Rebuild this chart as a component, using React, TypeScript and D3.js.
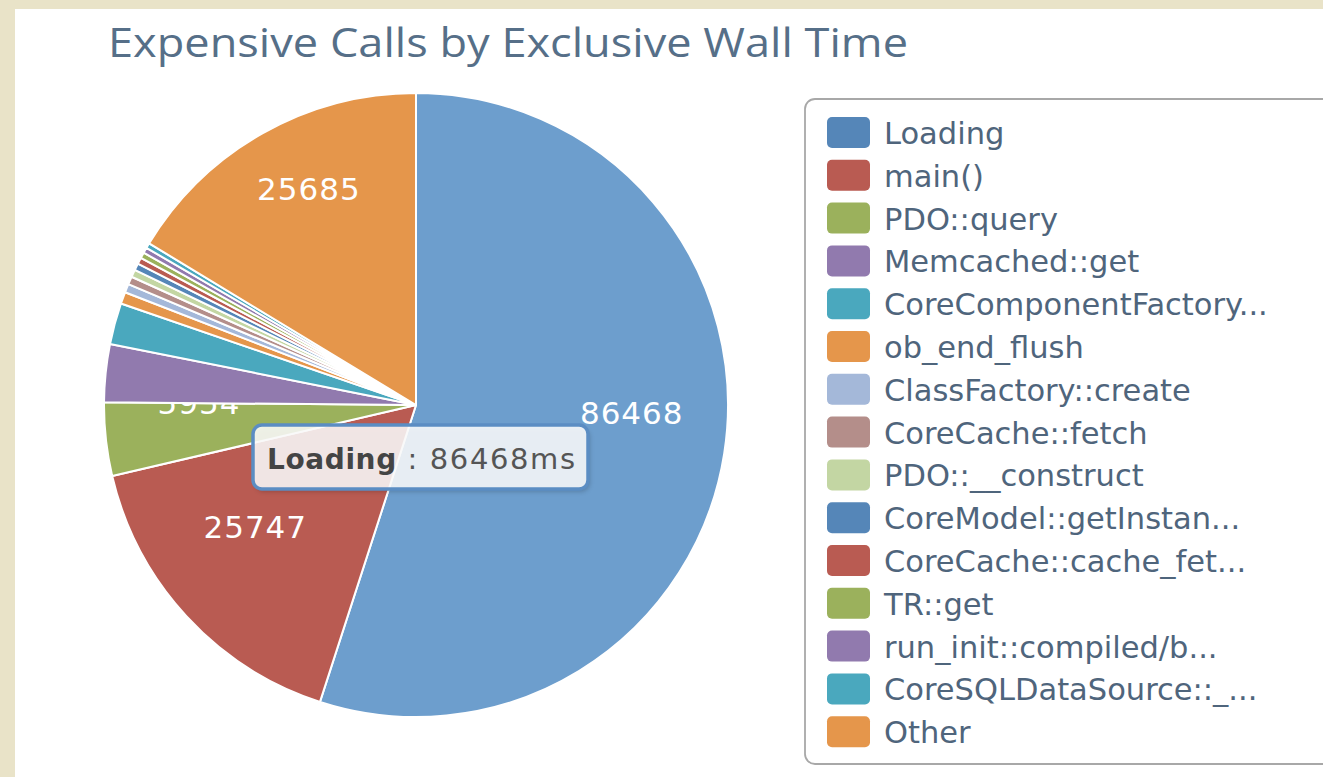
import React, { useRef, useEffect } from "react";
import * as d3 from "d3";

const categories = [
  "Loading",
  "main()",
  "PDO::query",
  "Memcached::get",
  "CoreComponentFactory...",
  "ob_end_flush",
  "ClassFactory::create",
  "CoreCache::fetch",
  "PDO::__construct",
  "CoreModel::getInstan...",
  "CoreCache::cache_fet...",
  "TR::get",
  "run_init::compiled/b...",
  "CoreSQLDataSource::_...",
  "Other",
];

const values = [
  86468, 25747, 5954, 4712, 3368, 960, 700, 650, 600, 560, 520, 480, 450, 420,
  25685,
];

const palette = [
  "#5586b8",
  "#b95b52",
  "#9bb15c",
  "#917aae",
  "#4aa8be",
  "#e5964b",
  "#a4b8d9",
  "#b48e8a",
  "#c3d6a3",
];

// hovered slice is drawn lighter
const hoverColor = "#6d9ecd";
const hoveredIndex = 0;

const W = 1323;
const H = 777;

const App: React.FC = () => {
  const svgRef = useRef<SVGSVGElement>(null);

  useEffect(() => {
    if (!svgRef.current) return;
    const svg = d3.select(svgRef.current);
    svg.selectAll("*").remove();

    // page backdrop + white panel
    svg.append("rect").attr("width", W).attr("height", H).attr("fill", "#e9e3c8");
    svg
      .append("rect")
      .attr("x", 15)
      .attr("y", 9)
      .attr("width", W - 15)
      .attr("height", H - 9)
      .attr("fill", "#ffffff");

    svg
      .append("text")
      .attr("x", 108)
      .attr("y", 57)
      .attr("font-family", "'Open Sans', sans-serif")
      .attr("font-size", 41)
      .attr("textLength", 800)
      .attr("lengthAdjust", "spacingAndGlyphs")
      .attr("fill", "#566f88")
      .text("Expensive Calls by Exclusive Wall Time");

    const color = (i: number) => palette[i % palette.length];

    const cx = 416;
    const cy = 405;
    const radius = 312;

    const pie = d3
      .pie<number>()
      .sort(null)
      .value((d) => d);
    const arcs = pie(values);
    const total = d3.sum(values);

    const arc = d3.arc<d3.PieArcDatum<number>>().innerRadius(0).outerRadius(radius);
    const labelArc = d3
      .arc<d3.PieArcDatum<number>>()
      .innerRadius(radius * 0.7)
      .outerRadius(radius * 0.7);

    const chart = svg.append("g").attr("transform", `translate(${cx}, ${cy})`);

    // each slice is drawn with its label, so later slices can cover earlier labels
    const slices = chart
      .selectAll("g.slice")
      .data(arcs)
      .join("g")
      .attr("class", "slice");

    slices
      .append("path")
      .attr("d", arc)
      .attr("fill", (_, i) => (i === hoveredIndex ? hoverColor : color(i)))
      .attr("stroke", "#ffffff")
      .attr("stroke-width", 2)
      .attr("stroke-linejoin", "round");

    slices
      .filter((d) => d.value / total > 0.035)
      .append("text")
      .attr("transform", (d) => {
        const [x, y] = labelArc.centroid(d);
        return `translate(${x}, ${y - 26})`;
      })
      .attr("text-anchor", "middle")
      .attr("dy", "0.36em")
      .attr("font-family", "'DejaVu Sans', sans-serif")
      .attr("font-size", 31)
      .attr("letter-spacing", 1)
      .attr("fill", "#ffffff")
      .text((d) => d.value);

    // tooltip for hovered slice
    const tip = svg.append("g").attr("transform", "translate(253, 425)");
    tip
      .append("rect")
      .attr("x", 2)
      .attr("y", 3)
      .attr("width", 335)
      .attr("height", 64)
      .attr("rx", 9)
      .attr("fill", "rgba(0,0,0,0.18)")
      .attr("filter", "blur(2px)");
    tip
      .append("rect")
      .attr("width", 335)
      .attr("height", 64)
      .attr("rx", 9)
      .attr("fill", "rgba(255,255,255,0.86)")
      .attr("stroke", "#5b8dc3")
      .attr("stroke-width", 3.5);
    const tt = tip
      .append("text")
      .attr("x", 14)
      .attr("y", 44)
      .attr("font-family", "'DejaVu Sans', sans-serif")
      .attr("font-size", 28);
    tt.append("tspan")
      .attr("font-weight", "bold")
      .attr("fill", "#444444")
      .attr("letter-spacing", 0.6)
      .text(categories[hoveredIndex]);
    tt.append("tspan")
      .attr("fill", "#555555")
      .attr("font-size", 29)
      .attr("letter-spacing", 1.6)
      .text(` : ${values[hoveredIndex]}ms`);

    // legend
    const legend = svg.append("g");
    legend
      .append("rect")
      .attr("x", 805)
      .attr("y", 99)
      .attr("width", 560)
      .attr("height", 665)
      .attr("rx", 10)
      .attr("fill", "#ffffff")
      .attr("stroke", "#a8a8a8")
      .attr("stroke-width", 1.8);

    const rowY = d3
      .scaleBand<number>()
      .domain(d3.range(categories.length))
      .range([112, 112 + 42.8 * categories.length]);

    const rows = legend
      .selectAll("g.row")
      .data(categories)
      .join("g")
      .attr("class", "row")
      .attr("transform", (_, i) => `translate(0, ${rowY(i)})`);

    rows
      .append("rect")
      .attr("x", 827)
      .attr("y", 5)
      .attr("width", 43)
      .attr("height", 31)
      .attr("rx", 5)
      .attr("fill", (_, i) => color(i));

    rows
      .append("text")
      .attr("x", 884)
      .attr("y", 32)
      .attr("font-family", "'DejaVu Sans', sans-serif")
      .attr("font-size", 30.5)
      .attr("fill", "#4f657c")
      .text((d) => d);
  }, []);

  return (
    <>
      <style>{`body{margin:0;overflow:hidden}`}</style>
      <svg ref={svgRef} width={W} height={H} style={{ display: "block" }} />
    </>
  );
};

export default App;
